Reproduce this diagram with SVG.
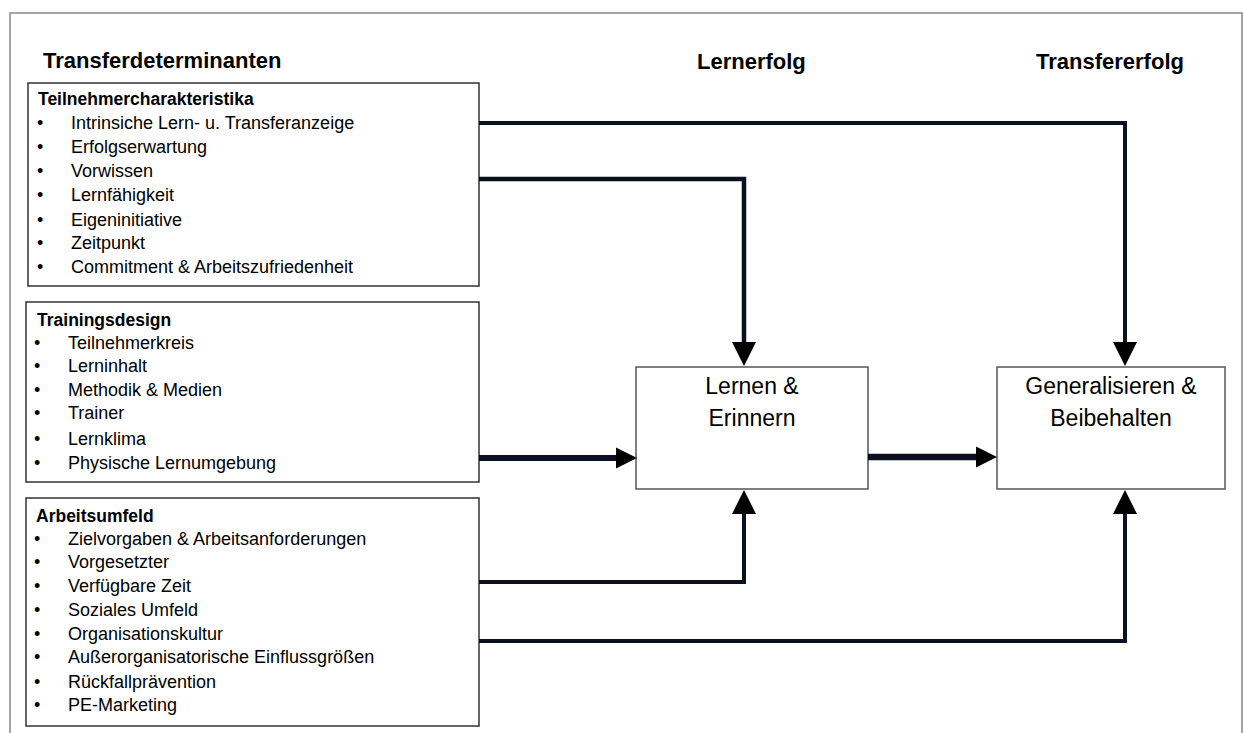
<svg xmlns="http://www.w3.org/2000/svg" width="1244" height="733" viewBox="0 0 1244 733">
<style>
.hd{font-family:"Liberation Sans",Arial,sans-serif;font-weight:bold;font-size:22px;fill:#000}
.bh{font-family:"Liberation Sans",Arial,sans-serif;font-weight:bold;font-size:17.5px;fill:#000}
.it{font-family:"Liberation Sans",Arial,sans-serif;font-size:18px;fill:#000}
.bx{fill:#fff;stroke:#333;stroke-width:1.5}
.cb{fill:#fff;stroke:#555;stroke-width:1.5}
.ct{font-family:"Liberation Sans",Arial,sans-serif;font-size:23px;fill:#000;text-anchor:middle}
.ln{fill:none;stroke:#0b1020;stroke-linejoin:miter}
</style>
<defs>
<marker id="ahD" viewBox="0 0 10 10" refX="0" refY="5" markerUnits="userSpaceOnUse" markerWidth="25" markerHeight="24" orient="auto"><path d="M0,0 L10,5 L0,10 z" fill="#000"/></marker>
<marker id="ahH" viewBox="0 0 10 10" refX="0" refY="5" markerUnits="userSpaceOnUse" markerWidth="21" markerHeight="27" orient="auto"><path d="M0,0 L10,5 L0,10 z" fill="#000"/></marker>
</defs>
<rect x="0" y="0" width="1244" height="733" fill="#fff"/>
<path d="M10,740 V13 H1242 V740" fill="none" stroke="#888" stroke-width="1.5"/>
<g id="headers">
<text class="hd" x="43" y="68">Transferdeterminanten</text>
<text class="hd" x="697" y="69">Lernerfolg</text>
<text class="hd" x="1036" y="69">Transfererfolg</text>
</g>
<g id="teilnehmer">
<rect class="bx" x="28" y="83" width="451" height="203"/>
<text class="bh" x="38" y="105">Teilnehmercharakteristika</text>
<g class="it">
<text x="37" y="129">•</text><text x="71" y="129">Intrinsiche Lern- u. Transferanzeige</text>
<text x="37" y="153">•</text><text x="71" y="153">Erfolgserwartung</text>
<text x="37" y="177">•</text><text x="71" y="177">Vorwissen</text>
<text x="37" y="201">•</text><text x="71" y="201">Lernfähigkeit</text>
<text x="37" y="226">•</text><text x="71" y="226">Eigeninitiative</text>
<text x="37" y="249">•</text><text x="71" y="249">Zeitpunkt</text>
<text x="37" y="273">•</text><text x="71" y="273">Commitment &amp; Arbeitszufriedenheit</text>
</g>
</g>
<g id="trainingsdesign">
<rect class="bx" x="26" y="302" width="453" height="180"/>
<text class="bh" x="37" y="326">Trainingsdesign</text>
<g class="it">
<text x="34" y="349">•</text><text x="68" y="349">Teilnehmerkreis</text>
<text x="34" y="372">•</text><text x="68" y="372">Lerninhalt</text>
<text x="34" y="396">•</text><text x="68" y="396">Methodik &amp; Medien</text>
<text x="34" y="419">•</text><text x="68" y="419">Trainer</text>
<text x="34" y="445">•</text><text x="68" y="445">Lernklima</text>
<text x="34" y="469">•</text><text x="68" y="469">Physische Lernumgebung</text>
</g>
</g>
<g id="arbeitsumfeld">
<rect class="bx" x="26" y="498" width="453" height="228"/>
<text class="bh" x="36" y="522">Arbeitsumfeld</text>
<g class="it">
<text x="34" y="545">•</text><text x="68" y="545">Zielvorgaben &amp; Arbeitsanforderungen</text>
<text x="34" y="568">•</text><text x="68" y="568">Vorgesetzter</text>
<text x="34" y="592">•</text><text x="68" y="592">Verfügbare Zeit</text>
<text x="34" y="616">•</text><text x="68" y="616">Soziales Umfeld</text>
<text x="34" y="640">•</text><text x="68" y="640">Organisationskultur</text>
<text x="34" y="663">•</text><text x="68" y="663">Außerorganisatorische Einflussgrößen</text>
<text x="34" y="688">•</text><text x="68" y="688">Rückfallprävention</text>
<text x="34" y="711">•</text><text x="68" y="711">PE-Marketing</text>
</g>
</g>
<g id="lernen">
<rect class="cb" x="636" y="367" width="232" height="122"/>
<text class="ct" x="752" y="394">Lernen &amp;</text>
<text class="ct" x="752" y="426">Erinnern</text>
</g>
<g id="generalisieren">
<rect class="cb" x="997" y="367" width="228" height="122"/>
<text class="ct" x="1111" y="394">Generalisieren &amp;</text>
<text class="ct" x="1111" y="426">Beibehalten</text>
</g>
<g id="connectors">
<path class="ln" d="M479,123 H1125 V342" stroke-width="4" marker-end="url(#ahD)"/>
<path class="ln" d="M479,179 H744 V342" stroke-width="4.5" marker-end="url(#ahD)"/>
<path class="ln" d="M479,458 H616" stroke-width="6" marker-end="url(#ahH)"/>
<path class="ln" d="M868,457 H976" stroke-width="6.5" marker-end="url(#ahH)"/>
<path class="ln" d="M479,582 H744 V514" stroke-width="4" marker-end="url(#ahD)"/>
<path class="ln" d="M479,641 H1125 V514" stroke-width="4" marker-end="url(#ahD)"/>
</g>
</svg>
